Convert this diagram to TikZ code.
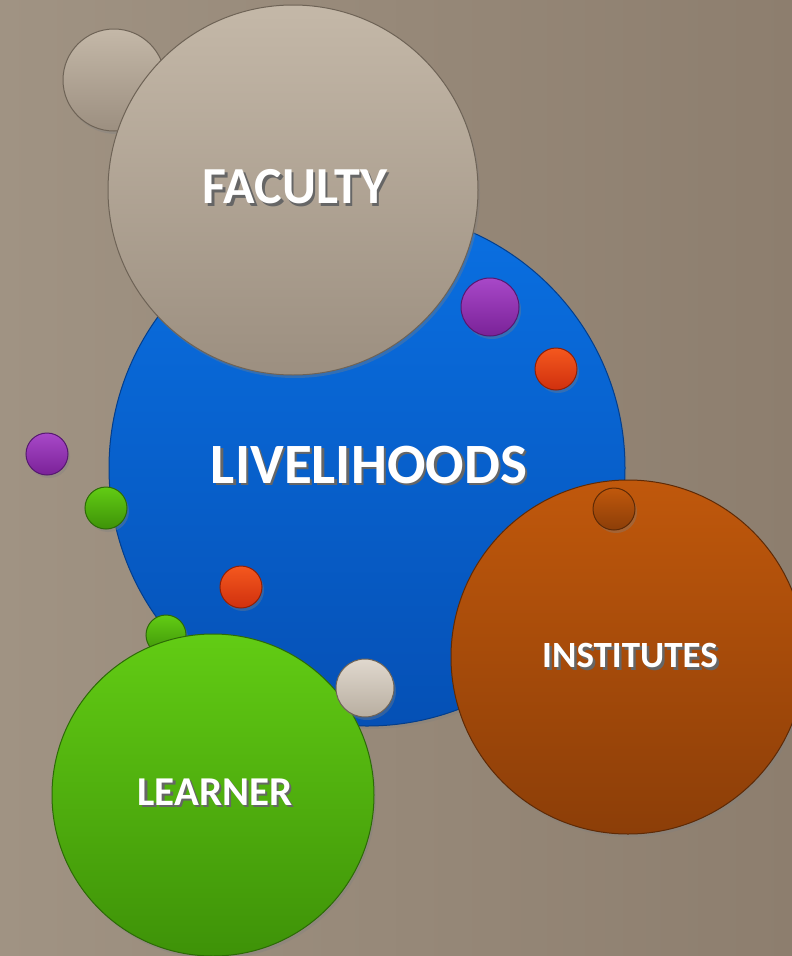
\documentclass[tikz,border=0pt]{standalone}
\usepackage{fontspec}
\setmainfont{Carlito}
\usetikzlibrary{shadows}
\definecolor{bgL}{HTML}{A09383}
\definecolor{bgR}{HTML}{8D7E6E}
\definecolor{grayT}{HTML}{C4B8A8}
\definecolor{grayB}{HTML}{9C8F80}
\definecolor{grayE}{HTML}{6E6356}
\definecolor{blueT}{HTML}{0A70E2}
\definecolor{blueB}{HTML}{0550B5}
\definecolor{blueE}{HTML}{033E8C}
\definecolor{orT}{HTML}{C0580C}
\definecolor{orB}{HTML}{8C3E08}
\definecolor{orE}{HTML}{5E2A06}
\definecolor{grT}{HTML}{62CC14}
\definecolor{grB}{HTML}{3E9208}
\definecolor{grE}{HTML}{2C6A06}
\definecolor{puT}{HTML}{A848C8}
\definecolor{puB}{HTML}{7A2298}
\definecolor{puE}{HTML}{561870}
\definecolor{rdT}{HTML}{F4581E}
\definecolor{rdB}{HTML}{D0300E}
\definecolor{rdE}{HTML}{8E2008}
\definecolor{sgT}{HTML}{E0D8CE}
\definecolor{sgB}{HTML}{B8AEA0}
\newcommand{\shtext}[1]{\makebox[0pt][l]{\raisebox{-2.5pt}{\hspace{2.5pt}\textcolor{black!60}{#1}}}\textcolor{white}{#1}}
\tikzset{
  ball/.style={circle, inner sep=0pt, outer sep=0pt, line width=1pt,
    drop shadow={shadow xshift=2pt, shadow yshift=-3pt, opacity=0.35}},
  gray ball/.style={ball, top color=grayT, bottom color=grayB, draw=grayE},
  blue ball/.style={ball, top color=blueT, bottom color=blueB, draw=blueE},
  orange ball/.style={ball, top color=orT, bottom color=orB, draw=orE},
  green ball/.style={ball, top color=grT, bottom color=grB, draw=grE},
  purple ball/.style={ball, top color=puT, bottom color=puB, draw=puE},
  red ball/.style={ball, top color=rdT, bottom color=rdB, draw=rdE},
  light ball/.style={ball, top color=sgT, bottom color=sgB, draw=grayE},
  label text/.style={inner sep=0pt},
  facfont/.style={label text, font=\bfseries\fontsize{52}{60}\selectfont},
  livefont/.style={label text, font=\bfseries\fontsize{57}{64}\selectfont},
  instfont/.style={label text, font=\bfseries\fontsize{37}{44}\selectfont},
  learnfont/.style={label text, font=\bfseries\fontsize{41}{48}\selectfont}
}
\begin{document}
\begin{tikzpicture}[x=1pt,y=-1pt]
\useasboundingbox (0,0) rectangle (792,956);
\shade[left color=bgL, right color=bgR] (0,0) rectangle (792,956);
\node[gray ball, minimum size=102pt] (g1) at (114,80) {};
\node[blue ball, minimum size=516pt] (live) at (367,468) {};
\node[gray ball, minimum size=370pt] (fac) at (293,190) {};
\node[purple ball, minimum size=58pt] (p1) at (490,307) {};
\node[red ball, minimum size=42pt] (r1) at (556,369) {};
\node[purple ball, minimum size=42pt] (p2) at (47,454) {};
\node[green ball, minimum size=42pt] (gr1) at (106,508) {};
\node[red ball, minimum size=42pt] (r2) at (241,587) {};
\node[green ball, minimum size=40pt] (gr2) at (166,635) {};
\node[green ball, minimum size=322pt] (learn) at (213,795) {};
\node[orange ball, minimum size=354pt] (inst) at (628,657) {};
\node[orange ball, minimum size=42pt] (o1) at (614,509) {};
\node[light ball, minimum size=58pt] (s1) at (365,688) {};
\node[facfont] (tfac) at (295,188) {\shtext{FACULTY}};
\node[livefont] (tlive) at (369,466) {\shtext{LIVELIHOODS}};
\node[instfont] (tinst) at (630,657) {\shtext{INSTITUTES}};
\node[learnfont] (tlearn) at (215,793) {\shtext{LEARNER}};
\end{tikzpicture}
\end{document}
